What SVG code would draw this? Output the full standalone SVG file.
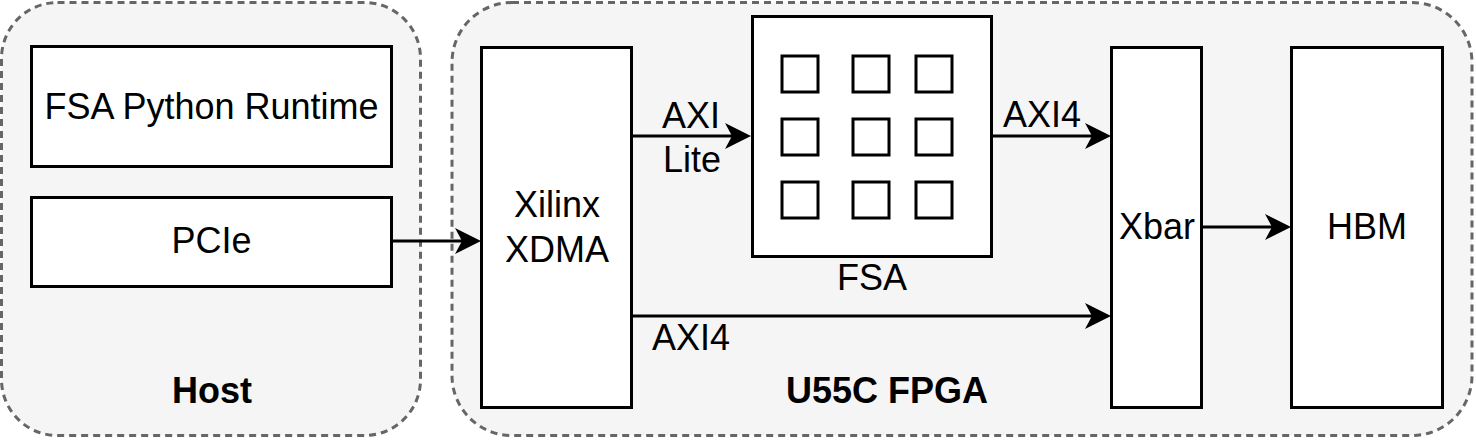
<svg xmlns="http://www.w3.org/2000/svg" width="1476" height="441" viewBox="0 0 1476 441">
  <style>
    .container { fill: #f5f5f5; stroke: #666666; stroke-width: 3; stroke-dasharray: 7 5; }
    .box { fill: #ffffff; stroke: #000000; stroke-width: 3; }
    .cell { fill: #ffffff; stroke: #000000; stroke-width: 3; }
    .txt { font-family: "Liberation Sans", Arial, Helvetica, sans-serif; font-size: 36px; fill: #000000; text-anchor: middle; }
    .bold { font-weight: bold; }
    .edge { fill: none; stroke: #000000; stroke-width: 3; marker-end: url(#arrow); }
  </style>
  <defs>
    <marker id="arrow" markerUnits="userSpaceOnUse" markerWidth="30" markerHeight="30" viewBox="0 0 30 30" refX="18" refY="15" orient="auto">
      <path d="M26,15 L0,2 L7,15 L0,28 Z" fill="#000000"/>
    </marker>
  </defs>

  <g id="host">
    <rect class="container" x="1.5" y="2.5" width="419" height="433" rx="56" ry="56"/>
    <text class="txt bold" x="212" y="403">Host</text>
  </g>
  <g id="fpga">
    <rect class="container" x="452" y="2.5" width="1020" height="433" rx="60" ry="60"/>
    <text class="txt bold" x="887" y="403">U55C FPGA</text>
  </g>

  <g id="runtime">
    <rect class="box" x="31.5" y="46.5" width="360" height="120"/>
    <text class="txt" x="211.5" y="119">FSA Python Runtime</text>
  </g>
  <g id="pcie">
    <rect class="box" x="31.5" y="197.5" width="360" height="89"/>
    <text class="txt" x="211.5" y="253">PCIe</text>
  </g>
  <g id="xdma">
    <rect class="box" x="481.5" y="47.5" width="150" height="360"/>
    <text class="txt" x="557" y="217">Xilinx</text>
    <text class="txt" x="557" y="262">XDMA</text>
  </g>
  <g id="fsa">
    <rect class="box" x="752.5" y="16.5" width="239" height="240"/>
    <rect class="cell" x="782" y="56" width="36" height="36"/>
    <rect class="cell" x="853" y="56" width="36" height="36"/>
    <rect class="cell" x="916" y="56" width="36" height="36"/>
    <rect class="cell" x="782" y="119" width="36" height="36"/>
    <rect class="cell" x="853" y="119" width="36" height="36"/>
    <rect class="cell" x="916" y="119" width="36" height="36"/>
    <rect class="cell" x="782" y="182" width="36" height="36"/>
    <rect class="cell" x="853" y="182" width="36" height="36"/>
    <rect class="cell" x="916" y="182" width="36" height="36"/>
    <text class="txt" x="872" y="290">FSA</text>
  </g>
  <g id="xbar">
    <rect class="box" x="1111.5" y="47.5" width="90" height="360"/>
    <text class="txt" x="1157" y="239">Xbar</text>
  </g>
  <g id="hbm">
    <rect class="box" x="1291.5" y="47.5" width="151" height="360"/>
    <text class="txt" x="1367" y="239">HBM</text>
  </g>

  <g id="connectors">
    <line class="edge" x1="393" y1="241" x2="473" y2="241"/>
    <line class="edge" x1="633" y1="136" x2="743" y2="136"/>
    <line class="edge" x1="993" y1="136" x2="1103" y2="136"/>
    <line class="edge" x1="633" y1="316" x2="1103" y2="316"/>
    <line class="edge" x1="1203" y1="227" x2="1283" y2="227"/>
    <text class="txt" x="691" y="128">AXI</text>
    <text class="txt" x="692" y="172">Lite</text>
    <text class="txt" x="1042" y="127">AXI4</text>
    <text class="txt" x="691" y="350">AXI4</text>
  </g>
</svg>
